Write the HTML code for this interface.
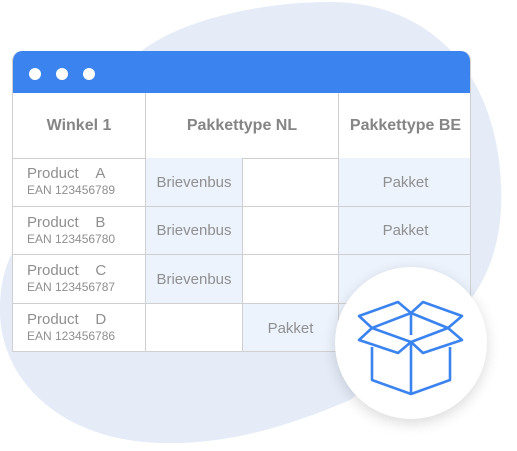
<!DOCTYPE html>
<html><head><style>
body{margin:0;width:517px;height:451px;background:#fff;position:relative;overflow:hidden;font-family:"Liberation Sans",Arial,sans-serif;}
.win{position:absolute;left:12px;top:51px;width:459px;height:301px;background:#fff;border-radius:10px 10px 0 0;overflow:hidden;border:1px solid #d0d0d0;border-top:none;box-sizing:border-box}
.hdr{position:absolute;left:0;top:0;width:100%;height:42px;background:#3b83ee}
.dot{position:absolute;top:17px;width:12px;height:12px;border-radius:50%;background:#fff}
.c{position:absolute;box-sizing:border-box;border-right:1px solid #cfcfcf;border-bottom:1px solid #cfcfcf;color:#8f8f8f;display:flex;align-items:center;justify-content:center;font-size:15px}
.h{font-weight:bold;font-size:16px;color:#858585}
.b{background:#edf3fd}
.p{padding-left:14px;flex-direction:column;align-items:flex-start;justify-content:center;font-size:15px;line-height:16px}
.p small{font-size:12px}
</style></head><body>
<svg style="position:absolute;left:0;top:0" width="517" height="451">
<path d="M140 52 C180 20 260 2 330 2 C420 2 490 60 500 170 C508 250 480 300 440 330 L350 400 C280 430 220 445 160 443 C60 440 0 380 0 310 C0 260 20 240 30 230 Z" fill="#e5ecf8"/>
</svg>
<div class="win">
<div class="hdr"><div class="dot" style="left:16px"></div><div class="dot" style="left:43px"></div><div class="dot" style="left:70px"></div></div>
<div class="c h" style="left:0;top:42px;width:133px;height:66px">Winkel 1</div>
<div class="c h" style="left:133px;top:42px;width:193px;height:66px">Pakkettype NL</div>
<div class="c h" style="left:326px;top:42px;width:133px;height:66px;border-right:none">Pakkettype BE</div>

<div class="c p" style="left:0;top:107px;width:133px;height:49px"><span>Product&nbsp;&nbsp;&nbsp;&nbsp;A</span><small>EAN 123456789</small></div>
<div class="c b" style="left:133px;top:107px;width:97px;height:49px">Brievenbus</div>
<div class="c" style="left:230px;top:107px;width:96px;height:49px"></div>
<div class="c b" style="left:326px;top:107px;width:133px;height:49px;border-right:none">Pakket</div>

<div class="c p" style="left:0;top:156px;width:133px;height:48px"><span>Product&nbsp;&nbsp;&nbsp;&nbsp;B</span><small>EAN 123456780</small></div>
<div class="c b" style="left:133px;top:156px;width:97px;height:48px">Brievenbus</div>
<div class="c" style="left:230px;top:156px;width:96px;height:48px"></div>
<div class="c b" style="left:326px;top:156px;width:133px;height:48px;border-right:none">Pakket</div>

<div class="c p" style="left:0;top:204px;width:133px;height:49px"><span>Product&nbsp;&nbsp;&nbsp;&nbsp;C</span><small>EAN 123456787</small></div>
<div class="c b" style="left:133px;top:204px;width:97px;height:49px">Brievenbus</div>
<div class="c" style="left:230px;top:204px;width:96px;height:49px"></div>
<div class="c b" style="left:326px;top:204px;width:133px;height:49px;border-right:none"></div>

<div class="c p" style="left:0;top:253px;width:133px;height:48px;border-bottom:none"><span>Product&nbsp;&nbsp;&nbsp;&nbsp;D</span><small>EAN 123456786</small></div>
<div class="c" style="left:133px;top:253px;width:97px;height:48px;border-bottom:none"></div>
<div class="c b" style="left:230px;top:253px;width:96px;height:48px;border-bottom:none">Pakket</div>
<div class="c b" style="left:326px;top:253px;width:133px;height:48px;border-right:none;border-bottom:none"></div>
</div>
<div style="position:absolute;left:335px;top:267px;width:152px;height:152px;border-radius:50%;background:#fff;box-shadow:0 4px 14px rgba(0,0,0,0.15)"></div>
<svg style="position:absolute;left:0;top:0" width="517" height="451">
<g fill="none" stroke="#3b83ee" stroke-width="2.6" stroke-linejoin="round">
<polygon points="372,328 411,313 448,328 411,342"/>
<polyline points="372,328 359,316 398,302 411,313 423,302 462,316 448,328"/>
<polyline points="372,328 359,340 398,353 411,342 423,353 462,340 448,328"/>
<line x1="411" y1="313" x2="411" y2="335"/>
<polyline points="372,347 372,380 411,394 450,380 450,347"/>
<line x1="411" y1="342" x2="411" y2="394"/>
</g></svg>
</body></html>
